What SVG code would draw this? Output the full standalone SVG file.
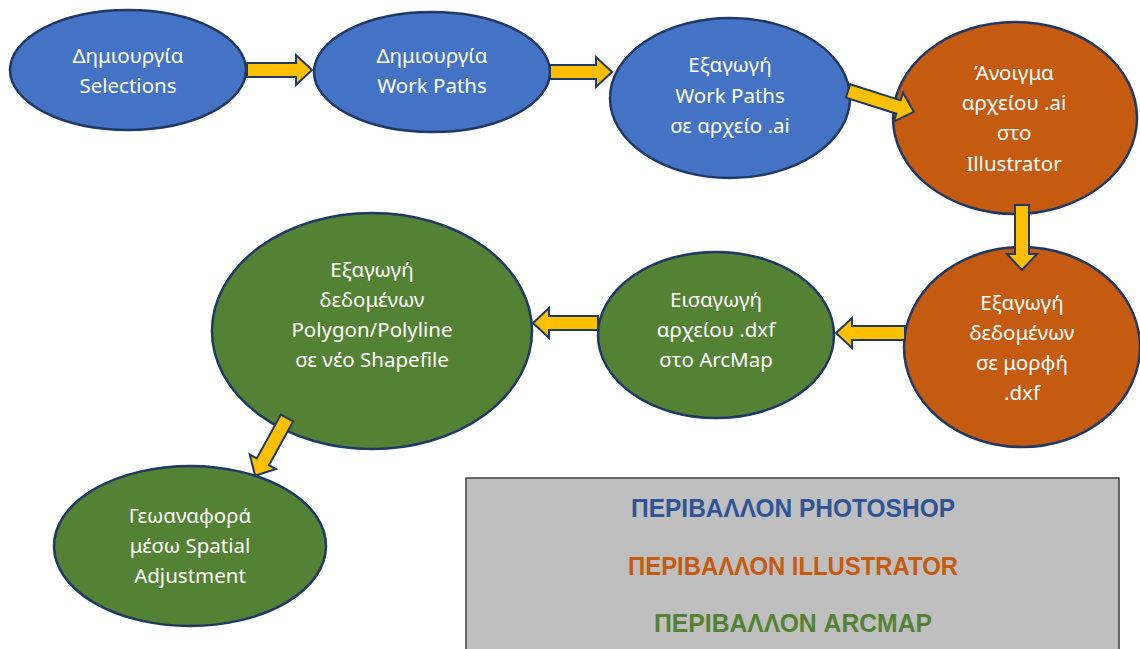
<svg xmlns="http://www.w3.org/2000/svg" width="1140" height="649" viewBox="0 0 1140 649">
<style>
.n{stroke:#1f3864;stroke-width:2.5}
.b{fill:#4472c4}.o{fill:#c55a11}.g{fill:#548235}
.t{font-family:"Noto Sans","Open Sans",sans-serif;font-size:20.5px;fill:#ffffff;text-anchor:middle}
.a{fill:#ffc000;stroke:#1f3864;stroke-width:2;stroke-linejoin:miter}
.l{font-family:"Liberation Sans",Arial,sans-serif;font-weight:bold;font-size:25px;text-anchor:middle}
</style>
<rect width="1140" height="649" fill="#ffffff"/>
<g id="n1"><ellipse class="n b" cx="128" cy="70" rx="118" ry="60"/><text class="t"><tspan x="128" y="63">Δημιουργία</tspan><tspan x="128" y="93">Selections</tspan></text></g>
<g id="n2"><ellipse class="n b" cx="432" cy="72" rx="118" ry="60"/><text class="t"><tspan x="432" y="63">Δημιουργία</tspan><tspan x="432" y="93">Work Paths</tspan></text></g>
<g id="n3"><ellipse class="n b" cx="730" cy="98" rx="120" ry="80"/><text class="t"><tspan x="730" y="72">Εξαγωγή</tspan><tspan x="730" y="103">Work Paths</tspan><tspan x="730" y="133">σε αρχείο .ai</tspan></text></g>
<g id="n4"><ellipse class="n o" cx="1015" cy="118" rx="122" ry="96"/><text class="t"><tspan x="1014" y="80">Άνοιγμα</tspan><tspan x="1014" y="110">αρχείου .ai</tspan><tspan x="1014" y="140">στο</tspan><tspan x="1014" y="171">Illustrator</tspan></text></g>
<g id="n5"><ellipse class="n o" cx="1022" cy="347" rx="118" ry="100"/><text class="t"><tspan x="1022" y="310">Εξαγωγή</tspan><tspan x="1022" y="340">δεδομένων</tspan><tspan x="1022" y="370">σε μορφή</tspan><tspan x="1022" y="400">.dxf</tspan></text></g>
<g id="n6"><ellipse class="n g" cx="716" cy="335" rx="118" ry="83"/><text class="t"><tspan x="716" y="307">Εισαγωγή</tspan><tspan x="716" y="337">αρχείου .dxf</tspan><tspan x="716" y="367">στο ArcMap</tspan></text></g>
<g id="n7"><ellipse class="n g" cx="372" cy="331" rx="160" ry="118"/><text class="t"><tspan x="372" y="277">Εξαγωγή</tspan><tspan x="372" y="307">δεδομένων</tspan><tspan x="372" y="337">Polygon/Polyline</tspan><tspan x="372" y="367">σε νέο Shapefile</tspan></text></g>
<g id="n8"><ellipse class="n g" cx="190" cy="546" rx="136" ry="80"/><text class="t"><tspan x="190" y="523">Γεωαναφορά</tspan><tspan x="190" y="553">μέσω Spatial</tspan><tspan x="190" y="583">Adjustment</tspan></text></g>
<g id="connectors">
<path class="a" transform="translate(247,70)" d="M0,-7 L49,-7 L49,-15 L65,0 L49,15 L49,7 L0,7 Z"/>
<path class="a" transform="translate(550,72)" d="M0,-7 L46,-7 L46,-15 L62,0 L46,15 L46,7 L0,7 Z"/>
<path class="a" transform="translate(848,91) rotate(17.6)" d="M0,-7 L53,-7 L53,-15 L69,0 L53,15 L53,7 L0,7 Z"/>
<path class="a" transform="translate(1022,205) rotate(90)" d="M0,-7 L49,-7 L49,-15 L65,0 L49,15 L49,7 L0,7 Z"/>
<path class="a" transform="translate(905,333) rotate(180)" d="M0,-7 L53,-7 L53,-15 L69,0 L53,15 L53,7 L0,7 Z"/>
<path class="a" transform="translate(598,323) rotate(180)" d="M0,-7 L49,-7 L49,-15 L65,0 L49,15 L49,7 L0,7 Z"/>
<path class="a" transform="translate(287,418) rotate(118.9)" d="M0,-7 L50,-7 L50,-15 L66,0 L50,15 L50,7 L0,7 Z"/>
</g>
<g id="legend">
<rect x="466" y="478" width="653" height="185" fill="#bfbfbf" stroke="#404040" stroke-width="1.5"/>
<text class="l" x="793" y="517" fill="#2f5597" textLength="324" lengthAdjust="spacingAndGlyphs">ΠΕΡΙΒΑΛΛΟΝ PHOTOSHOP</text>
<text class="l" x="793" y="575" fill="#c55a11" textLength="330" lengthAdjust="spacingAndGlyphs">ΠΕΡΙΒΑΛΛΟΝ ILLUSTRATOR</text>
<text class="l" x="793" y="632" fill="#548235" textLength="278" lengthAdjust="spacingAndGlyphs">ΠΕΡΙΒΑΛΛΟΝ ARCMAP</text>
</g>
</svg>
